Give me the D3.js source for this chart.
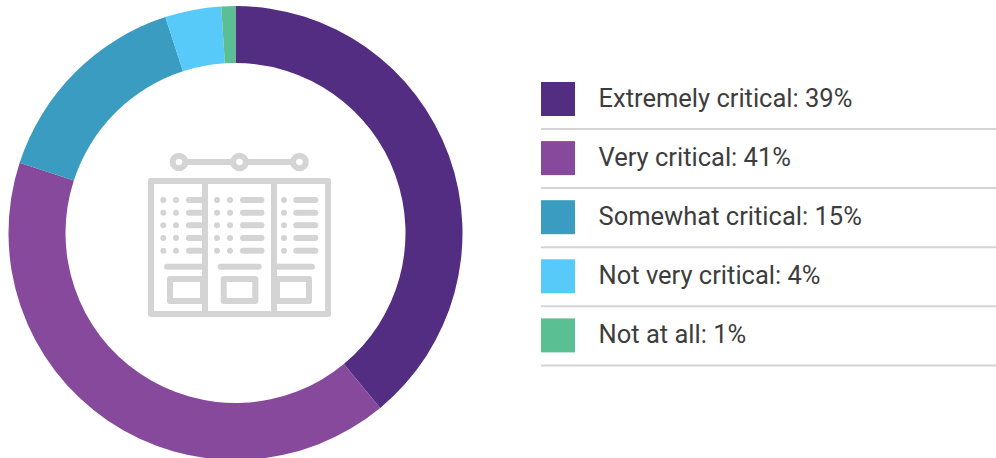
<!DOCTYPE html>
<html><head><meta charset="utf-8">
<script src="https://cdnjs.cloudflare.com/ajax/libs/d3/7.8.5/d3.min.js"></script>
<style>html,body{margin:0;padding:0;background:#fff;overflow:hidden}svg{display:block}text{font-family:Roboto,sans-serif;font-size:25.5px;fill:#3d3d3d}</style>
</head><body><svg id="c" width="996" height="458"></svg>
<script>
const categories=["Extremely critical","Very critical","Somewhat critical","Not very critical","Not at all"];
const values=[39,41,15,4,1];
const colors=["#522d82","#86499b","#399cc0","#57caf9","#5bbf94"];
const svg=d3.select("#c");
const cx=235.5,cy=233,ro=227,ri=170;
const pie=d3.pie().sort(null).value(d=>d)(values);
const arc=d3.arc().innerRadius(ri).outerRadius(ro);
const g=svg.append("g").attr("transform",`translate(${cx},${cy})`);
g.selectAll("path").data(pie).join("path").attr("d",arc).attr("fill",(d,i)=>colors[i]);

// legend
const step=59.1;
const y=i=>82+i*step;
const row=svg.selectAll("g.row").data(categories).join("g").attr("class","row");
row.append("rect").attr("x",541).attr("y",(d,i)=>y(i)).attr("width",34).attr("height",34).attr("fill",(d,i)=>colors[i]);
row.append("text").attr("x",598.5).attr("y",(d,i)=>y(i)+25).text((d,i)=>`${d}: ${values[i]}%`);
row.append("line").attr("x1",541).attr("x2",996).attr("y1",(d,i)=>y(i)+47).attr("y2",(d,i)=>y(i)+47).attr("stroke","#d4d4d4").attr("stroke-width",2);

// icon
const ic=svg.append("g").attr("fill","none").attr("stroke","#d4d4d4").attr("stroke-linecap","round").attr("stroke-linejoin","round");
ic.append("line").attr("x1",179).attr("x2",299).attr("y1",162).attr("y2",162).attr("stroke-width",6);
[179,239.5,299.5].forEach(x=>ic.append("circle").attr("cx",x).attr("cy",162).attr("r",6.3).attr("fill","#fff").attr("stroke-width",6));
ic.append("rect").attr("x",151).attr("y",181).attr("width",177).attr("height",133).attr("stroke-width",6);
[205,274].forEach(x=>ic.append("line").attr("x1",x).attr("x2",x).attr("y1",181).attr("y2",314).attr("stroke-width",6).attr("stroke-linecap","butt"));
const rows=[200,212.7,225.3,238,250.7];
const cols=[{dots:[163.3,176],b:[189,201],l:[167,201],box:[170,203]},
{dots:[217,230],b:[243,261.5],l:[220.7,258.7],box:[223.7,255.3]},
{dots:[284],b:[296.3,315.3],l:[277,312],box:[277,309]}];
cols.forEach(c=>{
 rows.forEach(r=>{
  c.dots.forEach(x=>ic.append("circle").attr("cx",x).attr("cy",r).attr("r",3).attr("fill","#d4d4d4").attr("stroke","none"));
  ic.append("line").attr("x1",c.b[0]).attr("x2",c.b[1]).attr("y1",r).attr("y2",r).attr("stroke-width",6);
 });
 ic.append("line").attr("x1",c.l[0]).attr("x2",c.l[1]).attr("y1",266.7).attr("y2",266.7).attr("stroke-width",6);
 ic.append("rect").attr("x",c.box[0]).attr("y",279).attr("width",c.box[1]-c.box[0]).attr("height",22).attr("stroke-width",6);
});
</script></body></html>
